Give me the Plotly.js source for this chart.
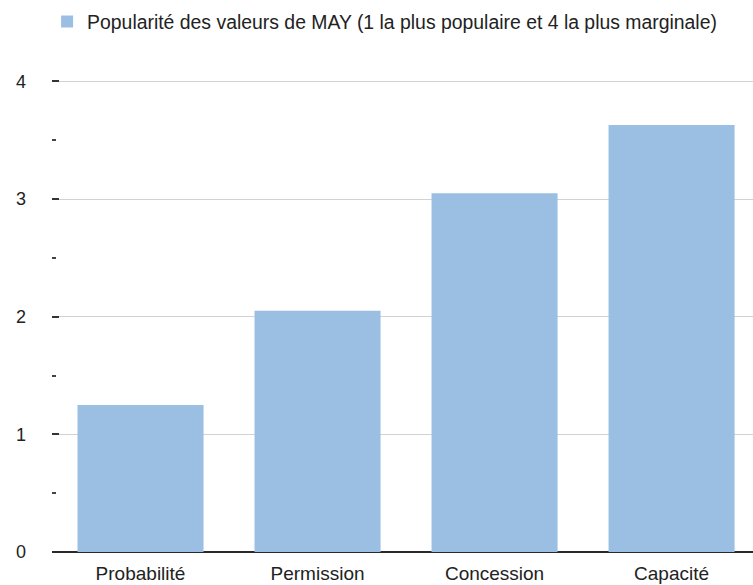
<!DOCTYPE html>
<html>
<head>
<meta charset="utf-8">
<script src="https://cdn.plot.ly/plotly-3.0.1.min.js"></script>
<style>html,body{margin:0;padding:0;background:#fff;}#chart{width:753px;height:585px;}</style>
</head>
<body>
<div id="chart"></div>
<script>
const categories = ["Probabilité", "Permission", "Concession", "Capacité"];
const values = [1.25, 2.05, 3.05, 3.63];
const seriesName = "Popularité des valeurs de MAY (1 la plus populaire et 4 la plus marginale)";
const yTicks = [0, 1, 2, 3, 4];

const trace = {
  type: "bar",
  x: categories,
  y: values,
  name: seriesName,
  width: 0.712,
  marker: {color: "#9bbfe3", line: {width: 0}},
  showlegend: true,
  hoverinfo: "x+y"
};

const layout = {
  width: 753,
  height: 585,
  margin: {l: 52, r: 0, t: 52, b: 33, pad: 0},
  paper_bgcolor: "#ffffff",
  plot_bgcolor: "#ffffff",
  font: {family: "Liberation Sans, Arial, sans-serif", size: 19, color: "#222"},
  showlegend: true,
  legend: {
    orientation: "h",
    x: -0.007, xanchor: "left",
    y: 1.06, yanchor: "middle",
    font: {size: 19.4, color: "#222"},
    itemwidth: 30,
    bgcolor: "rgba(0,0,0,0)"
  },
  xaxis: {
    type: "category",
    range: [-0.5, 3.46],
    showgrid: false,
    ticks: "",
    showline: false,
    zeroline: false,
    tickfont: {size: 19, color: "#222"},
    ticklabelstandoff: 8,
    fixedrange: true
  },
  yaxis: {
    range: [0, 4.25],
    tickvals: yTicks,
    ticktext: yTicks.map(String),
    showgrid: true,
    gridcolor: "#d2d2d2",
    gridwidth: 1,
    zeroline: true,
    zerolinecolor: "#2a2a2a",
    zerolinewidth: 2,
    showline: false,
    ticks: "inside",
    ticklen: 7,
    tickwidth: 2,
    tickcolor: "#333",
    ticklabelstandoff: 25,
    tickfont: {size: 18, color: "#222"},
    minor: {dtick: 0.5, tick0: 0, ticks: "inside", ticklen: 4, tickwidth: 2, tickcolor: "#444", showgrid: false},
    fixedrange: true
  }
};

Plotly.newPlot("chart", [trace], layout, {displayModeBar: false, staticPlot: true});
</script>
</body>
</html>
